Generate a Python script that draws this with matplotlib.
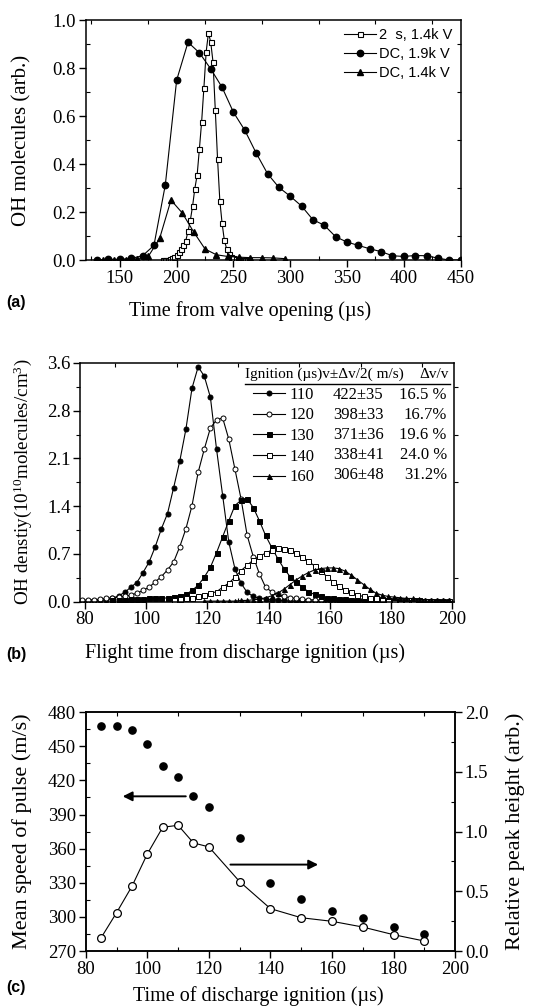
import numpy as np
import matplotlib
matplotlib.use('Agg')
import matplotlib.pyplot as plt
from matplotlib.ticker import MultipleLocator

plt.rcParams['font.family'] = ['Liberation Serif', 'DejaVu Serif']
plt.rcParams['mathtext.fontset'] = 'custom'
plt.rcParams['mathtext.rm'] = 'Liberation Serif'
plt.rcParams['mathtext.it'] = 'Liberation Serif:italic'
plt.rcParams['axes.linewidth'] = 1.1

# %% data, panel (a)
t_dc19 = np.arange(130, 451, 10)
oh_dc19 = [0.0, 0.003, 0.003, 0.007, 0.018, 0.061, 0.313, 0.750, 0.908, 0.864,
           0.797, 0.720, 0.616, 0.541, 0.446, 0.360, 0.303, 0.266, 0.225, 0.168,
           0.145, 0.097, 0.075, 0.061, 0.047, 0.035, 0.018, 0.015, 0.019, 0.018,
           0.008, 0.0, 0.0]
t_dc14 = np.arange(135, 296, 10)
oh_dc14 = [0.002, 0.002, 0.002, 0.005, 0.015, 0.09, 0.25, 0.196, 0.117, 0.046,
           0.022, 0.015, 0.012, 0.010, 0.010, 0.009, 0.006]
t_2us = np.arange(188, 265, 2)
oh_2us = [0.0, 0.0, 0.002, 0.004, 0.008, 0.014, 0.022, 0.032, 0.045, 0.062,
          0.08, 0.12, 0.165, 0.224, 0.298, 0.353, 0.462, 0.577, 0.719, 0.869,
          0.947, 0.908, 0.826, 0.627, 0.421, 0.248, 0.153, 0.082, 0.047, 0.025,
          0.014, 0.007, 0.004, 0.003, 0.002, 0.002, 0.001, 0.001, 0.001]
labels_a = ['2  s, 1.4k V', 'DC, 1.9k V', 'DC, 1.4k V']

# %% data, panel (b)
t_fl = np.arange(79, 200, 2)
dens_110 = [0.00, 0.01, 0.01, 0.02, 0.03, 0.05, 0.09, 0.14, 0.22, 0.29,
            0.44, 0.60, 0.83, 1.10, 1.33, 1.72, 2.12, 2.60, 3.22, 3.54,
            3.40, 3.08, 2.30, 1.60, 0.90, 0.50, 0.28, 0.14, 0.08, 0.05,
            0.04, 0.03, 0.02, 0.02, 0.01, 0.01, 0.01, 0.01, 0.01, 0.01,
            0.00, 0.00, 0.00, 0.00, 0.00, 0.00, 0.00, 0.00, 0.00, 0.00,
            0.00, 0.00, 0.00, 0.00, 0.00, 0.00, 0.00, 0.00, 0.00, 0.00,
            0.00]
dens_120 = [0.02, 0.03, 0.03, 0.04, 0.05, 0.06, 0.07, 0.08, 0.10, 0.13,
            0.17, 0.22, 0.30, 0.38, 0.48, 0.60, 0.83, 1.10, 1.45, 1.95,
            2.30, 2.62, 2.74, 2.77, 2.45, 2.00, 1.55, 1.00, 0.68, 0.42,
            0.22, 0.15, 0.11, 0.08, 0.06, 0.05, 0.04, 0.03, 0.03, 0.02,
            0.02, 0.02, 0.02, 0.01, 0.01, 0.01, 0.01, 0.01, 0.01, 0.01,
            0.01, 0.01, 0.01, 0.01, 0.01, 0.01, 0.01, 0.01, 0.01, 0.01,
            0.01]
dens_130 = [0.02, 0.03, 0.03, 0.04, 0.04, 0.04, 0.05, 0.05, 0.05, 0.06,
            0.07, 0.09, 0.11, 0.17, 0.25, 0.37, 0.52, 0.74, 0.98, 1.22,
            1.45, 1.53, 1.55, 1.42, 1.22, 1.00, 0.82, 0.65, 0.50, 0.38,
            0.30, 0.22, 0.15, 0.11, 0.08, 0.06, 0.05, 0.04, 0.04, 0.03,
            0.03, 0.03, 0.02, 0.02, 0.02, 0.02, 0.01, 0.01, 0.01, 0.01,
            0.01, 0.01, 0.01, 0.01, 0.00, 0.00]
dens_140 = [0.03, 0.04, 0.05, 0.06, 0.08, 0.10, 0.13, 0.15, 0.22, 0.28,
            0.37, 0.47, 0.55, 0.63, 0.69, 0.73, 0.78, 0.81, 0.80, 0.78,
            0.74, 0.68, 0.61, 0.54, 0.47, 0.38, 0.30, 0.24, 0.18, 0.14,
            0.10, 0.08, 0.06, 0.05, 0.04, 0.03, 0.03, 0.02, 0.02, 0.02,
            0.02, 0.01, 0.01, 0.01, 0.01, 0.01]
dens_160 = [0.01, 0.01, 0.01, 0.01, 0.01, 0.01, 0.02, 0.02, 0.03, 0.04,
            0.06, 0.09, 0.13, 0.19, 0.26, 0.33, 0.39, 0.44, 0.48, 0.50,
            0.51, 0.51, 0.50, 0.46, 0.40, 0.33, 0.26, 0.19, 0.13, 0.10,
            0.08, 0.07, 0.06, 0.05, 0.05, 0.04, 0.03, 0.03, 0.02, 0.02,
            0.02]
ign_b = ['110', '120', '130', '140', '160']
vel_b = ['422\u00b135', '398\u00b133', '371\u00b136', '338\u00b141', '306\u00b148']
dvv_b = ['16.5 %', '16.7%', '19.6 %', '24.0 %', '31.2%']
ytick_b = ['0.0', '0.7', '1.4', '2.1', '2.8', '3.6']

# %% data, panel (c)
t_ign = [85, 90, 95, 100, 105, 110, 115, 120, 130, 140, 150, 160, 170, 180, 190]
speed = [468, 468, 464, 452, 433, 423, 406, 397, 369, 330, 316, 305, 299, 291, 285]
rel_height = [0.112, 0.321, 0.542, 0.813, 1.036, 1.053, 0.905, 0.872, 0.581,
              0.355, 0.279, 0.249, 0.201, 0.137, 0.084]

FS = 13.5   # tick labels
fig = plt.figure(figsize=(5.57, 10.08), dpi=100)


def style(ax):
    ax.tick_params(which='major', direction='out', length=5, width=1, labelsize=FS, pad=2)
    ax.tick_params(which='minor', direction='in', length=3, width=0.8, top=True, right=True)


# %% panel (a)
ax1 = fig.add_axes([0.154, 0.742, 0.673, 0.238])
ax1.plot(t_2us, oh_2us, 'k-', lw=0.8, marker='s', ms=3.6, mfc='white', mew=0.8, label=labels_a[0])
ax1.plot(t_dc19, oh_dc19, 'k-', lw=0.8, marker='o', ms=4.6, label=labels_a[1])
ax1.plot(t_dc14, oh_dc14, 'k-', lw=0.8, marker='^', ms=4.6, label=labels_a[2])
ax1.set_xlim(120, 450)
ax1.set_ylim(0, 1.0)
ax1.xaxis.set_major_locator(MultipleLocator(50))
ax1.xaxis.set_minor_locator(MultipleLocator(25))
ax1.yaxis.set_major_locator(MultipleLocator(0.2))
ax1.yaxis.set_minor_locator(MultipleLocator(0.1))
ax1.yaxis.set_major_formatter(lambda v, p: f'{v:.1f}')
style(ax1)
ax1.legend(loc='upper right', frameon=False, prop={'family': 'Liberation Sans', 'size': 10.5},
           handlelength=2.2, handletextpad=0.2, labelspacing=0.33, borderaxespad=0.15)
fig.text(0.040, 0.861, 'OH molecules (arb.)', rotation=90, ha='center', va='center', fontsize=15)
fig.text(0.449, 0.691, 'Time from valve opening (\u00b5s)', ha='center', va='center', fontsize=14.5)
fig.text(0.012, 0.700, '(a)', ha='left', va='center', fontsize=11.5, fontweight='bold', family='Liberation Sans')

# %% panel (b)
ax2 = fig.add_axes([0.144, 0.403, 0.671, 0.237])
mk = [dict(marker='o', mfc='black'), dict(marker='o', mfc='white'),
      dict(marker='s', mfc='black'), dict(marker='s', mfc='white'),
      dict(marker='^', mfc='black')]
series = [(t_fl, dens_110), (t_fl, dens_120), (t_fl[5:], dens_130),
          (t_fl[15:], dens_140), (t_fl[20:], dens_160)]
handles = []
for (tx, dy), m in zip(series, mk):
    h, = ax2.plot(tx, dy, color='black', lw=0.8, ms=3.6, mew=0.7, mec='black', **m)
    handles.append(h)
ax2.set_xlim(78.5, 200.5)
ax2.set_ylim(0, 3.6)
ax2.xaxis.set_major_locator(MultipleLocator(20))
ax2.xaxis.set_minor_locator(MultipleLocator(10))
ax2.set_yticks(np.linspace(0, 3.6, 6))
ax2.set_yticklabels(ytick_b)
ax2.yaxis.set_minor_locator(MultipleLocator(0.36))
style(ax2)
ax2.tick_params(axis='y', which='minor', direction='out')
ax2.legend(handles, ign_b, loc='upper left', bbox_to_anchor=(0.462, 0.90), frameon=False,
           fontsize=12, handlelength=1.9, handletextpad=0.3, labelspacing=0.28,
           borderpad=0, borderaxespad=0)
row_y = [0.867, 0.783, 0.699, 0.615, 0.531]
for yy, v, d in zip(row_y, vel_b, dvv_b):
    ax2.text(0.676, yy, v, transform=ax2.transAxes, ha='left', va='center', fontsize=12)
    ax2.text(0.981, yy, d, transform=ax2.transAxes, ha='right', va='center', fontsize=12)
ax2.text(0.441, 0.953, 'Ignition (\u00b5s)v\u00b1\u0394v/2( m/s)', transform=ax2.transAxes,
         ha='left', va='center', fontsize=11)
ax2.text(0.987, 0.953, '\u0394v/v', transform=ax2.transAxes, ha='right', va='center', fontsize=11)
ax2.axhline(0.913 * 3.6, xmin=0.441, xmax=0.99, color='black', lw=1.0)
fig.text(0.040, 0.522, 'OH denstiy(10$^{10}$molecules/cm$^{3}$)', rotation=90,
         ha='center', va='center', fontsize=13.7)
fig.text(0.440, 0.352, 'Flight time from discharge ignition (\u00b5s)', ha='center', va='center',
         fontsize=14.5)
fig.text(0.012, 0.351, '(b)', ha='left', va='center', fontsize=11.5, fontweight='bold', family='Liberation Sans')

# %% panel (c)
ax3 = fig.add_axes([0.154, 0.0565, 0.663, 0.237])
ax3.plot(t_ign, speed, 'o', color='black', ms=5.2, ls='none')
ax3.set_xlim(80, 200)
ax3.set_ylim(270, 480)
ax3.xaxis.set_major_locator(MultipleLocator(20))
ax3.xaxis.set_minor_locator(MultipleLocator(10))
ax3.yaxis.set_major_locator(MultipleLocator(30))
ax3.yaxis.set_minor_locator(MultipleLocator(15))
style(ax3)
ax3.tick_params(which='minor', right=False)
ax4 = ax3.twinx()
ax4.plot(t_ign, rel_height, 'k-', lw=0.8, marker='o', ms=5.6, mfc='white', mew=0.9)
ax4.set_ylim(0, 2.0)
ax4.yaxis.set_major_locator(MultipleLocator(0.5))
ax4.yaxis.set_minor_locator(MultipleLocator(0.25))
ax4.yaxis.set_major_formatter(lambda v, p: f'{v:.1f}')
ax4.tick_params(which='major', direction='out', length=5, width=1, labelsize=FS, pad=2)
ax4.tick_params(which='minor', direction='in', length=3, width=0.8)
arrow = dict(arrowstyle='-|>', color='black', lw=1.4, mutation_scale=14, shrinkA=0, shrinkB=0)
ax3.annotate('', xy=(92, 406), xytext=(112.5, 406), arrowprops=arrow)
ax3.annotate('', xy=(155.5, 346), xytext=(127, 346), arrowprops=arrow)
fig.text(0.040, 0.175, 'Mean speed of pulse (m/s)', rotation=90, ha='center', va='center', fontsize=16)
fig.text(0.925, 0.175, 'Relative peak height (arb.)', rotation=90, ha='center', va='center', fontsize=16)
fig.text(0.463, 0.012, 'Time of discharge ignition (\u00b5s)', ha='center', va='center', fontsize=14.5)
fig.text(0.012, 0.020, '(c)', ha='left', va='center', fontsize=11.5, fontweight='bold', family='Liberation Sans')

fig.savefig('out.png', dpi=100)
